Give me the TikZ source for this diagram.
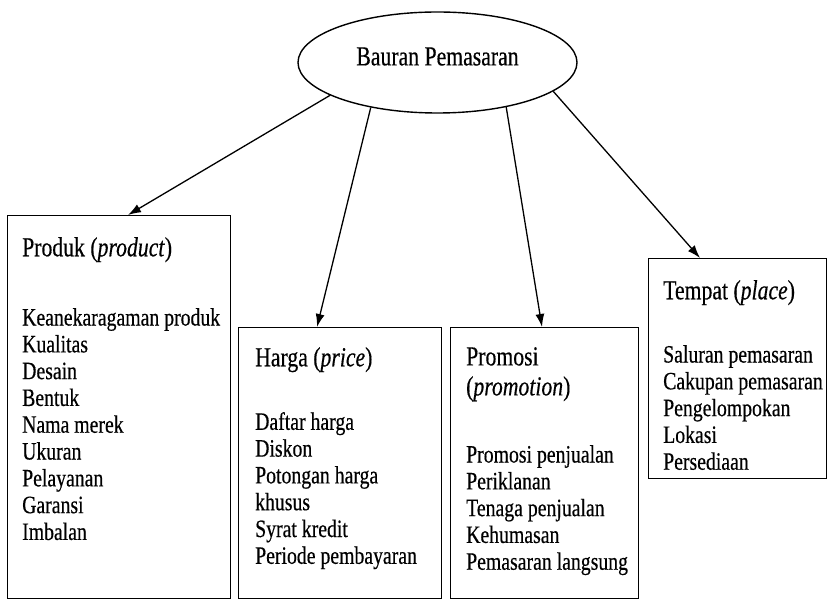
\documentclass[tikz,border=0pt]{standalone}
\usepackage{fontspec}
\setmainfont[FakeStretch=0.79,FakeBold=0.4]{Liberation Serif}
\usetikzlibrary{shapes.geometric}
\usetikzlibrary{positioning}
\usetikzlibrary{calc}
\usetikzlibrary{arrows.meta}

\tikzset{
    panel/.style={draw,line width=1.3pt,anchor=north west,inner sep=0pt},
    heading/.style={align=left,inner sep=0pt,font=\fontsize{27.5}{30}\selectfont},
    itemlist/.style={align=left,inner sep=0pt,font=\fontsize{25}{26.8}\selectfont},
    link/.style={line width=1.3pt,-{Latex[length=13pt,width=9pt]}}
}

\begin{document}
\begin{tikzpicture}[x=1pt,y=-1pt]
                \useasboundingbox (0,0) rectangle (828,601);

                \node[ellipse,draw,line width=1.4pt,minimum width=279pt,minimum height=101pt,inner sep=0pt] (bauran) at (437.5,62.5) {};
                \node[heading] (judul) at ([yshift=6pt]bauran.center) {Bauran Pemasaran};

                \node[panel,minimum width=223pt,minimum height=383pt] (produk) at (7,215) {};
                \node[panel,minimum width=203pt,minimum height=271pt] (harga) at (238,327) {};
                \node[panel,minimum width=188pt,minimum height=271pt] (promosi) at (450,327) {};
                \node[panel,minimum width=178pt,minimum height=220pt] (tempat) at (648,258) {};

                \node[heading,below right=22pt and 15pt of produk.north west] (produkjudul) {Produk (\textit{product})};
                \node[itemlist,below right=93pt and 15pt of produk.north west] (produkisi) {Keanekaragaman produk\\Kualitas\\Desain\\Bentuk\\Nama merek\\Ukuran\\Pelayanan\\Garansi\\Imbalan};

                \node[heading,below right=20pt and 17pt of harga.north west] (hargajudul) {Harga (\textit{price})};
                \node[itemlist,below right=85pt and 17pt of harga.north west] (hargaisi) {Daftar harga\\Diskon\\Potongan harga\\khusus\\Syrat kredit\\Periode pembayaran};

                \node[heading,below right=20pt and 16pt of promosi.north west] (promosijudul) {Promosi\\(\textit{promotion})};
                \node[itemlist,below right=118pt and 16pt of promosi.north west] (promosiisi) {Promosi penjualan\\Periklanan\\Tenaga penjualan\\Kehumasan\\Pemasaran langsung};

                \node[heading,below right=22pt and 15pt of tempat.north west] (tempatjudul) {Tempat (\textit{place})};
                \node[itemlist,below right=87pt and 15pt of tempat.north west] (tempatisi) {Saluran pemasaran\\Cakupan pemasaran\\Pengelompokan\\Lokasi\\Persediaan};

                \draw[link] (bauran.197) -- ($(produk.north west)+(121,0)$);
                \draw[link] (bauran.214) -- ($(harga.north west)+(79,0)$);
                \draw[link] (bauran.327) -- ($(promosi.north west)+(92,0)$);
                \draw[link] (bauran.346) -- ($(tempat.north west)+(52,0)$);
\end{tikzpicture}
\end{document}
